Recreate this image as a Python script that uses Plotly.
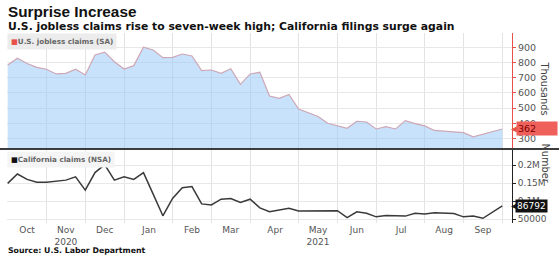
import pandas as pd
import plotly.graph_objects as go

W, H = 559, 255

week_ending = pd.date_range("2020-10-03", periods=52, freq="7D")

us_claims_k = [785, 830, 795, 770, 757, 726, 730, 757, 719, 852, 870, 807, 759, 781,
               903, 885, 834, 836, 858, 845, 748, 752, 730, 761, 657, 726, 737, 580,
               565, 590, 494, 470, 445, 400, 381, 366, 413, 408, 362, 377, 362, 417,
               397, 382, 352, 348, 344, 338, 310, 328, 345, 362]

ca_claims = [149000, 175000, 160000, 152000, 152000, 156000, 158000, 167000, 130000,
             179000, 201000, 158000, 167000, 160000, 179000, 119000, 59000, 107000,
             137000, 140000, 92000, 89000, 105000, 107000, 96000, 105000, 81000, 70000,
             74000, 80000, 72000, 72000, 72000, 73000, 73000, 54000, 70000, 66000,
             56000, 60000, 58000, 58000, 66000, 64000, 67500, 66000, 65000, 56000,
             58000, 52000, 70000, 86792]

month_labels = ["Oct", "Nov<br>2020", "Dec", "Jan", "Feb", "Mar", "Apr",
                "May<br>2021", "Jun", "Jul", "Aug", "Sep"]
label_dates = ["2020-10-17", "2020-11-14", "2020-12-12", "2021-01-13", "2021-02-13",
               "2021-03-13", "2021-04-14", "2021-05-15", "2021-06-12", "2021-07-14",
               "2021-08-14", "2021-09-11"]
grid_dates = ["2020-10-31", "2020-11-28", "2020-12-26", "2021-01-30", "2021-02-27",
              "2021-03-27", "2021-05-01", "2021-05-29", "2021-06-26", "2021-07-31",
              "2021-08-28", "2021-09-25"]

top_ticks = [300, 400, 500, 600, 700, 800, 900]
bot_tickvals = [50000, 100000, 150000, 200000]
bot_ticktext = ["50000", "0.1M", "0.15M", "0.2M"]

RED = "#e8514a"
FONT = "DejaVu Sans"

def px_x(p):
    return p / W

def px_y(p):
    return 1 - p / H

x_dom = [px_x(7), px_x(512)]
top_dom = [px_y(148), px_y(33)]
bot_dom = [px_y(223), px_y(150)]
x_range = ["2020-10-02 12:00", "2021-10-02"]

fig = go.Figure()

fig.add_trace(go.Scatter(
    x=week_ending, y=us_claims_k, mode="lines", fill="tozeroy",
    line=dict(color="#cda7b6", width=1.2),
    fillcolor="rgba(150,200,250,0.52)",
    xaxis="x", yaxis="y", hoverinfo="skip", showlegend=False))

fig.add_trace(go.Scatter(
    x=week_ending, y=ca_claims, mode="lines",
    line=dict(color="#3a3a3a", width=1.5),
    xaxis="x2", yaxis="y2", hoverinfo="skip", showlegend=False))

common_x = dict(
    type="date", range=x_range, domain=x_dom,
    tickmode="array", tickvals=label_dates, ticktext=month_labels,
    showgrid=False, ticks="", zeroline=False, showline=False,
    minor=dict(tickmode="array", tickvals=grid_dates, showgrid=True,
               gridcolor="#e3e3e3", gridwidth=1, ticks=""),
    tickfont=dict(family=FONT, size=9, color="#555"),
)

fig.update_layout(
    width=W, height=H,
    margin=dict(l=0, r=0, t=0, b=0),
    paper_bgcolor="white", plot_bgcolor="white",
    font=dict(family=FONT, color="#444"),
    xaxis=dict(common_x, anchor="y", showticklabels=False),
    xaxis2=dict(common_x, anchor="y2", showticklabels=True, ticklabelstandoff=0),
    yaxis=dict(domain=top_dom, range=[236, 997], side="right", anchor="x",
               tickvals=top_ticks, showgrid=True, gridcolor="#e8e8e8",
               showline=True, linecolor=RED, linewidth=1,
               ticks="outside", ticklen=3, tickcolor=RED,
               tickfont=dict(family=FONT, size=9.5, color="#555"), zeroline=False),
    yaxis2=dict(domain=bot_dom, range=[38900, 241700], side="right", anchor="x2",
                tickvals=bot_tickvals, ticktext=bot_ticktext, showgrid=True,
                gridcolor="#e8e8e8", showline=True, linecolor="#222", linewidth=1,
                ticks="outside", ticklen=3, tickcolor="#222",
                tickfont=dict(family=FONT, size=9, color="#555"), zeroline=False),
)

# panel separator
fig.add_shape(type="line", xref="paper", yref="paper", x0=0, x1=1,
              y0=px_y(149), y1=px_y(149), line=dict(color="#3c3c3c", width=2))

ann = []
ann.append(dict(text="<b>Surprise Increase</b>", x=px_x(6), y=px_y(1.5),
                xref="paper", yref="paper", xanchor="left", yanchor="top",
                showarrow=False, font=dict(family="Liberation Sans", size=15.3, color="#111")))
ann.append(dict(text="<b>U.S. jobless claims rise to seven-week high; California filings surge again</b>",
                x=px_x(6), y=px_y(18), xref="paper", yref="paper",
                xanchor="left", yanchor="top", showarrow=False,
                font=dict(family=FONT, size=10.8, color="#111")))
ann.append(dict(text="<b>Source: U.S. Labor Department</b>", x=px_x(6), y=px_y(243.5),
                xref="paper", yref="paper", xanchor="left", yanchor="top",
                showarrow=False, font=dict(family=FONT, size=7.8, color="#111")))

# legend boxes
ann.append(dict(text="<span style='color:%s'>■</span><b>U.S. jobless claims (SA)</b>" % RED,
                x=px_x(7), y=px_y(33), xref="paper", yref="paper",
                xanchor="left", yanchor="top", showarrow=False,
                bgcolor="#ececec", borderpad=3,
                font=dict(family=FONT, size=7.2, color="#666")))
ann.append(dict(text="<span style='color:#111'>■</span><b>California claims (NSA)</b>",
                x=px_x(7), y=px_y(151), xref="paper", yref="paper",
                xanchor="left", yanchor="top", showarrow=False,
                bgcolor="#f4f4f4", borderpad=3,
                font=dict(family=FONT, size=7.2, color="#666")))

# axis titles
ann.append(dict(text="Thousands", x=px_x(552), y=px_y(88), xref="paper", yref="paper",
                textangle=90, showarrow=False,
                font=dict(family=FONT, size=9.8, color="#444")))
ann.append(dict(text="Number", x=px_x(553), y=px_y(185), xref="paper", yref="paper",
                textangle=90, showarrow=False,
                font=dict(family=FONT, size=9.8, color="#444")))

# last value tags
ann.append(dict(text="◀", x=px_x(509), y=us_claims_k[-1], xref="paper", yref="y",
                xanchor="left", yanchor="middle", showarrow=False,
                font=dict(family=FONT, size=10, color=RED)))
ann.append(dict(text="%d" % us_claims_k[-1], x=px_x(516), y=us_claims_k[-1],
                xref="paper", yref="y", xanchor="left", yanchor="middle",
                showarrow=False, bgcolor="#f0605a", borderpad=1, width=38, align="left",
                font=dict(family=FONT, size=9.5, color="#7a0000")))
ann.append(dict(text="◀", x=px_x(509), y=ca_claims[-1], xref="paper", yref="y2",
                xanchor="left", yanchor="middle", showarrow=False,
                font=dict(family=FONT, size=10, color="#111")))
ann.append(dict(text="%d" % ca_claims[-1], x=px_x(515), y=ca_claims[-1],
                xref="paper", yref="y2", xanchor="left", yanchor="middle",
                showarrow=False, bgcolor="#111", borderpad=1,
                font=dict(family=FONT, size=9, color="#fff")))

fig.update_layout(annotations=ann)

fig.write_html("out.html", config={"displayModeBar": False},
               post_script="document.body.style.margin='0';document.body.style.overflow='hidden';")
